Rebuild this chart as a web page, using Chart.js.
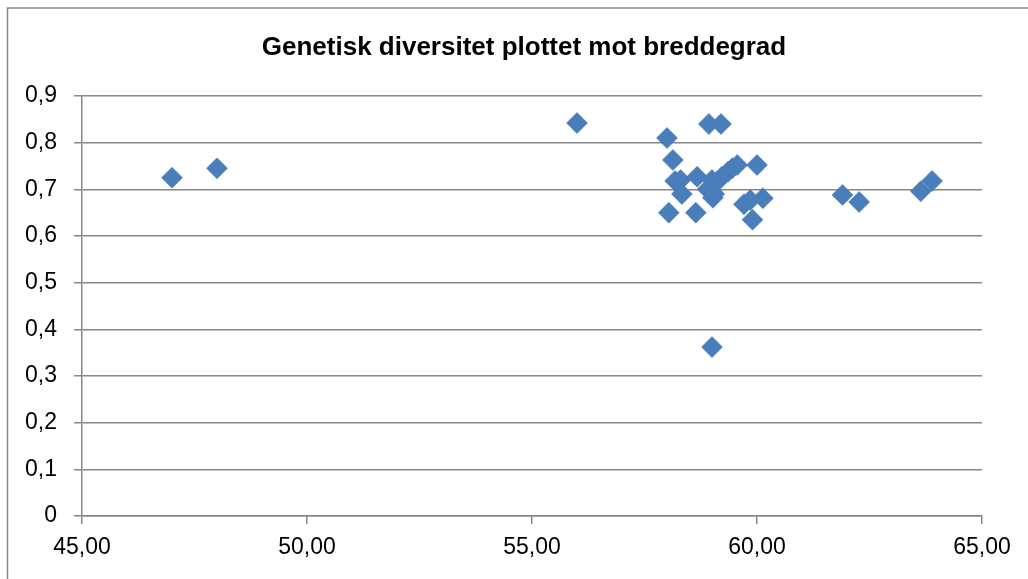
<!DOCTYPE html>
<html>
<head>
<meta charset="utf-8">
<script src="https://cdn.jsdelivr.net/npm/chart.js@4/dist/chart.umd.min.js"></script>
<style>
html,body{margin:0;padding:0;background:#fff;}
#wrap{position:relative;width:1028px;height:579px;}
</style>
</head>
<body>
<div id="wrap"><canvas id="c" width="1028" height="579"></canvas></div>
<script>
const chartTitle = "Genetisk diversitet plottet mot breddegrad";
const latitude = [47.0, 48.0, 56.0, 58.0, 58.93, 59.2, 58.13, 58.18, 58.3, 58.33, 58.67, 58.04, 58.64, 58.9, 59.0, 59.02, 59.05, 59.11, 59.22, 59.36, 59.45, 59.56, 60.0, 59.71, 59.85, 60.13, 59.9, 59.0, 61.9, 62.27, 63.64, 63.89];
const diversity = [0.725, 0.745, 0.842, 0.810, 0.840, 0.840, 0.763, 0.718, 0.720, 0.690, 0.727, 0.650, 0.650, 0.700, 0.720, 0.682, 0.690, 0.716, 0.727, 0.738, 0.745, 0.752, 0.752, 0.668, 0.677, 0.681, 0.635, 0.362, 0.688, 0.673, 0.696, 0.718];
const xTicks = [45, 50, 55, 60, 65];
const yTicks = [0, 0.1, 0.2, 0.3, 0.4, 0.5, 0.6, 0.7, 0.8, 0.9];

const points = latitude.map((v, i) => ({x: v, y: diversity[i]}));

const frame = {
  id: 'frame',
  beforeDraw(chart) {
    const ctx = chart.ctx;
    ctx.save();
    ctx.strokeStyle = '#868686';
    ctx.lineWidth = 1.5;
    ctx.beginPath();
    ctx.moveTo(7.5, 579);
    ctx.lineTo(7.5, 8);
    ctx.lineTo(1028, 8);
    ctx.stroke();
    ctx.fillStyle = '#000';
    ctx.font = 'bold 26px "Liberation Sans", Arial, sans-serif';
    ctx.textAlign = 'center';
    ctx.textBaseline = 'middle';
    ctx.fillText(chartTitle, 524, 48);
    ctx.restore();
  }
};

new Chart(document.getElementById('c'), {
  type: 'scatter',
  data: {
    datasets: [{
      data: points,
      pointStyle: 'rectRot',
      pointRadius: 10.5,
      pointHoverRadius: 10.5,
      backgroundColor: '#4A7EBB',
      borderColor: '#4374B4',
      borderWidth: 0.5
    }]
  },
  options: {
    responsive: false,
    animation: false,
    events: [],
    layout: {padding: {top: 96, right: 46, left: 0, bottom: 0}},
    plugins: {legend: {display: false}, tooltip: {enabled: false}, title: {display: false}},
    scales: {
      x: {
        type: 'linear',
        min: 45, max: 65,
        afterBuildTicks(scale) { scale.ticks = xTicks.map(v => ({value: v})); },
        afterFit(scale) { scale.height = 63; },
        ticks: {
          color: '#000',
          font: {family: '"Liberation Sans", Arial, sans-serif', size: 23},
          padding: 10,
          maxRotation: 0,
          callback: v => v.toFixed(2).replace('.', ',')
        },
        grid: {drawOnChartArea: false, drawTicks: true, tickLength: 8, color: '#868686', lineWidth: 1.5},
        border: {display: true, color: '#868686', width: 1.5}
      },
      y: {
        min: 0, max: 0.9,
        afterBuildTicks(scale) { scale.ticks = yTicks.map(v => ({value: v})); },
        afterFit(scale) { scale.width = 82; },
        ticks: {
          color: '#000',
          font: {family: '"Liberation Sans", Arial, sans-serif', size: 23},
          padding: 17,
          callback: v => (Math.round(v * 10) / 10).toString().replace('.', ',')
        },
        grid: {drawOnChartArea: true, drawTicks: true, tickLength: 8, color: '#868686', lineWidth: 1.5},
        border: {display: true, color: '#868686', width: 1.5}
      }
    }
  },
  plugins: [frame]
});
</script>
</body>
</html>
